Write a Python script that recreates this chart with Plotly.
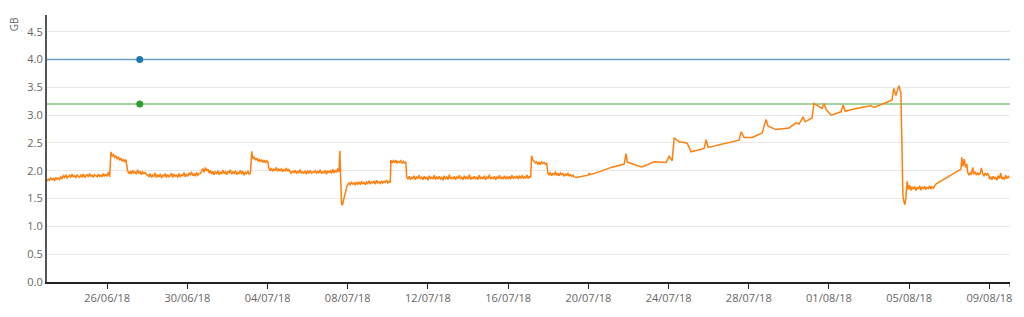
import plotly.graph_objects as go
import pandas as pd

# ---------------- data ----------------
x_range = ["2018-06-23 00:00", "2018-08-10 00:40"]
limit_blue = 4.0
limit_green = 3.2
marker_time = "2018-06-27 15:00"
STEP_H = 1.5  # sampling interval of the noisy segments, hours

# noisy, regularly sampled segments: (start, values)
seg1 = ("2018-06-23 00:00", [
    1.81, 1.85, 1.83, 1.87, 1.84, 1.86, 1.82, 1.88, 1.85, 1.87,
    1.84, 1.89, 1.86, 1.91, 1.88, 1.93, 1.87, 1.90, 1.92, 1.88,
    1.94, 1.89, 1.91, 1.87, 1.93, 1.90, 1.88, 1.92, 1.89, 1.94,
    1.88, 1.91, 1.93, 1.89, 1.95, 1.90, 1.92, 1.88, 1.93, 1.91,
    1.89, 1.94, 1.90, 1.92, 1.89, 1.95, 1.91, 1.93, 1.90, 1.98,
    1.89])
seg2 = ("2018-06-26 04:30", [2.34, 2.26, 2.29, 2.24, 2.27, 2.21, 2.25, 2.19, 2.22, 2.17, 2.21, 2.16, 2.20])
seg3 = ("2018-06-27 00:30", [2.00, 1.95, 1.99, 1.94, 2.01, 1.96, 1.98, 1.94, 2.02, 1.95, 1.99, 1.93, 1.98,
                              1.95, 1.97, 1.93])
seg4 = ("2018-06-28 00:30", [
    1.93, 1.89, 1.95, 1.88, 1.92, 1.90, 1.96, 1.88, 1.93, 1.89,
    1.94, 1.87, 1.92, 1.90, 1.95, 1.88, 1.93, 1.89, 1.91, 1.96,
    1.88, 1.94, 1.90, 1.92, 1.88, 1.95, 1.89, 1.93, 1.91, 1.97,
    1.89, 1.94, 1.90, 1.96, 1.92, 1.98, 1.91, 1.95, 1.90, 1.97,
    1.92, 1.95])
seg5 = ("2018-06-30 15:30", [
    1.95, 1.99, 2.04, 1.97, 2.06, 2.00, 2.03, 1.96, 2.01, 1.94,
    1.99, 1.93, 1.98, 1.95, 2.00, 1.93, 1.97, 1.94, 2.01, 1.95,
    1.98, 1.93, 1.99, 1.96, 2.02, 1.94, 1.98, 1.95, 2.00, 1.93,
    1.97, 1.95, 2.01, 1.94, 1.99, 1.92, 1.97, 1.95, 2.00, 1.93,
    1.96])
seg6 = ("2018-07-03 05:00", [2.35, 2.22, 2.25, 2.19, 2.23, 2.17, 2.21, 2.16, 2.20, 2.15, 2.19, 2.14, 2.18, 2.15])
seg7 = ("2018-07-04 01:30", [2.04, 2.00, 2.05, 1.99, 2.03, 2.01, 2.06, 1.99, 2.03, 2.00, 2.04, 1.98, 2.02,
                              2.00, 2.05, 1.99, 2.02])
seg8 = ("2018-07-05 03:00", [
    1.99, 1.95, 2.00, 1.96, 2.01, 1.95, 1.99, 1.97, 2.02, 1.95,
    1.98, 1.96, 2.00, 1.94, 1.99, 1.96, 2.01, 1.95, 1.98, 1.97,
    2.00, 1.95, 1.99, 1.96, 2.02, 1.95, 1.98, 1.96, 2.01, 1.94,
    1.99, 1.97, 2.00, 1.95, 2.03, 1.96, 2.01, 1.97, 2.04, 1.98])
spike1_t = ["2018-07-07 14:30", "2018-07-07 15:30", "2018-07-07 16:30", "2018-07-07 17:30",
            "2018-07-07 19:00", "2018-07-07 21:00", "2018-07-07 23:00"]
spike1_v = [2.36, 1.75, 1.42, 1.38, 1.48, 1.62, 1.72]
seg9 = ("2018-07-08 00:00", [
    1.74, 1.78, 1.75, 1.79, 1.76, 1.78, 1.74, 1.80, 1.76, 1.79,
    1.75, 1.81, 1.77, 1.79, 1.75, 1.80, 1.77, 1.82, 1.76, 1.80,
    1.78, 1.81, 1.76, 1.83, 1.78, 1.80, 1.77, 1.82, 1.78, 1.81,
    1.79, 1.83, 1.78, 1.81, 1.79])
seg10 = ("2018-07-10 03:30", [2.19, 2.14, 2.18, 2.15, 2.19, 2.14, 2.17, 2.15, 2.18, 2.13, 2.17, 2.14, 2.16])
seg11 = ("2018-07-10 22:30", [
    1.89, 1.85, 1.90, 1.84, 1.88, 1.86, 1.91, 1.84, 1.89, 1.86,
    1.92, 1.85, 1.88, 1.84, 1.90, 1.86, 1.89, 1.83, 1.91, 1.86,
    1.88, 1.85, 1.92, 1.84, 1.89, 1.86, 1.90, 1.85, 1.88, 1.83,
    1.91, 1.86, 1.89, 1.84, 1.93, 1.85, 1.88, 1.86, 1.90, 1.84,
    1.89, 1.86, 1.92, 1.85, 1.88, 1.84, 1.91, 1.86, 1.89, 1.85,
    1.93, 1.84, 1.88, 1.86, 1.90, 1.85, 1.89, 1.84, 1.92, 1.86,
    1.88, 1.85, 1.91, 1.84, 1.89, 1.86, 1.93, 1.85, 1.88, 1.86,
    1.90, 1.84, 1.89, 1.86, 1.92, 1.85, 1.88, 1.86, 1.91, 1.85,
    1.89, 1.86, 1.90, 1.85, 1.92, 1.86, 1.89, 1.87, 1.91, 1.85,
    1.90, 1.87, 1.92, 1.86, 1.89, 1.87, 1.93, 1.86, 1.90, 1.88])
seg12 = ("2018-07-17 04:00", [2.27, 2.19, 2.17, 2.14, 2.16, 2.12, 2.15, 2.11, 2.16, 2.13, 2.15, 2.12, 2.14])
seg13 = ("2018-07-17 23:30", [
    1.96, 1.92, 1.97, 1.91, 1.95, 1.93, 1.98, 1.92, 1.95, 1.91,
    1.96, 1.93, 1.95, 1.90, 1.94, 1.92, 1.96, 1.91, 1.93, 1.90,
    1.92, 1.89, 1.88])

# sparse climbing section
climb_t = ["2018-07-19 09:20", "2018-07-20 00:00", "2018-07-20 01:00", "2018-07-20 02:00", "2018-07-20 13:00",
           "2018-07-21 03:15", "2018-07-21 18:50", "2018-07-21 21:10", "2018-07-21 22:30", "2018-07-22 09:10",
           "2018-07-22 16:20", "2018-07-23 06:40", "2018-07-23 21:10", "2018-07-24 00:40", "2018-07-24 04:20",
           "2018-07-24 06:40", "2018-07-24 12:40", "2018-07-24 22:10", "2018-07-25 02:55", "2018-07-25 18:30",
           "2018-07-25 21:00", "2018-07-25 23:20", "2018-07-27 00:25", "2018-07-27 12:25", "2018-07-27 14:50",
           "2018-07-27 18:25", "2018-07-28 04:00", "2018-07-28 16:00", "2018-07-28 20:40", "2018-07-28 23:05",
           "2018-07-29 08:40", "2018-07-30 00:15", "2018-07-30 08:35", "2018-07-30 12:10", "2018-07-30 17:00",
           "2018-07-30 19:25", "2018-07-31 03:40", "2018-07-31 06:05", "2018-07-31 15:40", "2018-07-31 18:05",
           "2018-07-31 20:30", "2018-08-01 02:30", "2018-08-01 14:30", "2018-08-01 16:55", "2018-08-01 19:20",
           "2018-08-02 05:35", "2018-08-03 02:10", "2018-08-03 05:45", "2018-08-04 03:20", "2018-08-04 05:40",
           "2018-08-04 08:05", "2018-08-04 11:40", "2018-08-04 14:05", "2018-08-04 15:20", "2018-08-04 16:30",
           "2018-08-04 17:40", "2018-08-04 18:50", "2018-08-04 20:00"]
climb_v = [1.88, 1.92, 1.96, 1.93, 1.98,
           2.06, 2.12, 2.31, 2.16, 2.10,
           2.07, 2.16, 2.15, 2.26, 2.18,
           2.59, 2.52, 2.50, 2.34, 2.40,
           2.56, 2.42, 2.50, 2.55, 2.70,
           2.60, 2.60, 2.68, 2.92, 2.80,
           2.74, 2.77, 2.86, 2.84, 2.97,
           2.88, 2.95, 3.21, 3.12, 3.21,
           3.10, 3.00, 3.06, 3.18, 3.07,
           3.11, 3.17, 3.14, 3.27, 3.48,
           3.35, 3.53, 3.40, 1.92, 1.55,
           1.45, 1.39, 1.50]
seg15 = ("2018-08-04 21:30", [1.81, 1.66, 1.74, 1.65, 1.71, 1.67, 1.72, 1.64, 1.70, 1.67, 1.73, 1.65, 1.71,
                               1.68, 1.72, 1.66, 1.70, 1.68, 1.73, 1.67, 1.71, 1.69, 1.74, 1.76])
spike2_t = ["2018-08-07 14:00", "2018-08-07 15:00", "2018-08-07 16:30", "2018-08-07 18:00",
            "2018-08-07 19:30", "2018-08-07 21:00"]
spike2_v = [2.03, 2.24, 2.08, 2.21, 2.06, 2.12]
seg16 = ("2018-08-07 22:00", [1.97, 1.92, 1.96, 1.93, 2.06, 1.94, 1.97, 1.92, 1.96, 1.93, 1.95, 2.05, 1.94,
                               1.91, 1.96, 1.92, 1.95, 1.91])
seg17 = ("2018-08-09 00:00", [1.85, 1.89, 1.84, 1.90, 1.86, 1.88, 1.83, 1.91, 1.86, 1.96, 1.85, 1.89, 1.84,
                               1.92, 1.86, 1.90, 1.87])


def expand(seg):
    start, vals = seg
    t = pd.date_range(start=start, periods=len(vals), freq=f"{int(STEP_H * 60)}min")
    return list(t), list(vals)


parts = [expand(seg1), expand(seg2), expand(seg3), expand(seg4), expand(seg5), expand(seg6),
         expand(seg7), expand(seg8), (list(pd.to_datetime(spike1_t)), spike1_v), expand(seg9),
         expand(seg10), expand(seg11), expand(seg12), expand(seg13),
         (list(pd.to_datetime(climb_t)), climb_v), expand(seg15),
         (list(pd.to_datetime(spike2_t)), spike2_v), expand(seg16), expand(seg17)]
usage_t, usage_v = [], []
for t, v in parts:
    usage_t += t
    usage_v += v

# ---------------- figure ----------------
fig = go.Figure()
fig.add_trace(go.Scatter(x=x_range, y=[limit_blue, limit_blue], mode="lines",
                         line=dict(color="rgba(31,119,180,0.65)", width=1.5), hoverinfo="skip"))
fig.add_trace(go.Scatter(x=x_range, y=[limit_green, limit_green], mode="lines",
                         line=dict(color="rgba(44,160,44,0.6)", width=1.5), hoverinfo="skip"))
fig.add_trace(go.Scatter(x=usage_t, y=usage_v, mode="lines",
                         line=dict(color="#ff7f0e", width=1.5)))
fig.add_trace(go.Scatter(x=[marker_time], y=[limit_blue], mode="markers",
                         marker=dict(color="#1f77b4", size=7)))
fig.add_trace(go.Scatter(x=[marker_time], y=[limit_green], mode="markers",
                         marker=dict(color="#2ca02c", size=7)))

fig.update_layout(
    width=1024, height=317,
    margin=dict(l=47, r=13, t=15, b=32),
    paper_bgcolor="white", plot_bgcolor="white",
    showlegend=False,
    font=dict(family="Open Sans", size=11, color="#666"),
)
fig.update_xaxes(
    type="date", range=x_range,
    tick0="2018-06-26", dtick=4 * 86400000, tickformat="%d/%m/%y",
    showgrid=False, showline=True, linecolor="#222", linewidth=2,
    ticks="outside", ticklen=5, tickcolor="#222", tickwidth=1,
    zeroline=False,
)
fig.update_yaxes(
    range=[0, 4.8], dtick=0.5, tickformat=".1f",
    showgrid=True, gridcolor="#e8e8e8", gridwidth=1,
    showline=True, linecolor="#555", linewidth=2,
    zeroline=False, ticks="",
)
fig.add_annotation(text="GB", xref="paper", yref="paper", x=-0.034, y=1.0,
                   textangle=-90, showarrow=False, xanchor="center", yanchor="top",
                   font=dict(size=10, color="#666"))
fig.add_shape(type="line", xref="x", yref="paper", x0=x_range[1], x1=x_range[1],
              y0=0, y1=-0.019, line=dict(color="#222", width=1))

fig.write_html("out.html")
